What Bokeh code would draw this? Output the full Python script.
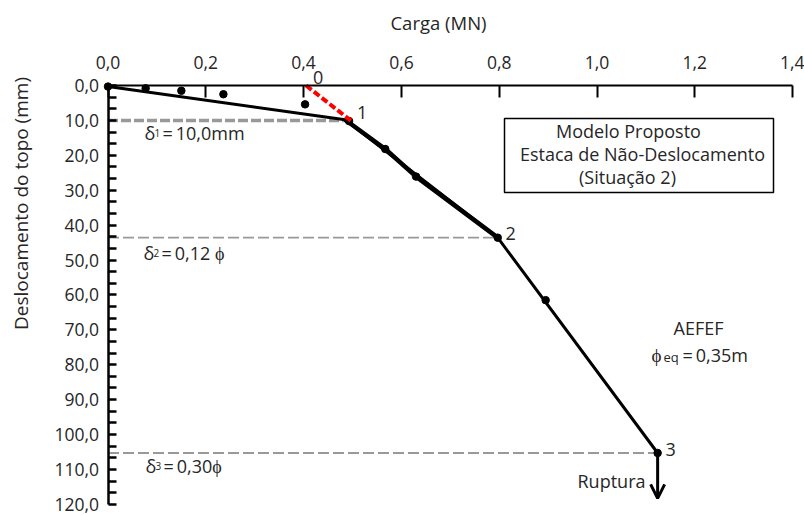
import math
from bokeh.plotting import figure
from bokeh.models import Range1d, FixedTicker, Label, Arrow, OpenHead
from bokeh.embed import file_html
from bokeh.resources import INLINE

# ---------------- data ----------------
x_ticks = [0.0, 0.2, 0.4, 0.6, 0.8, 1.0, 1.2, 1.4]
x_tick_labels = ["0,0", "0,2", "0,4", "0,6", "0,8", "1,0", "1,2", "1,4"]
y_ticks = [0, 10, 20, 30, 40, 50, 60, 70, 80, 90, 100, 110, 120]
y_tick_labels = ["0,0", "10,0", "20,0", "30,0", "40,0", "50,0", "60,0",
                 "70,0", "80,0", "90,0", "100,0", "110,0", "120,0"]

# measured load-displacement points (MN, mm)
exp_load = [0.0, 0.077, 0.150, 0.236, 0.403, 0.493, 0.567, 0.630, 0.797, 0.895, 1.124]
exp_disp = [0.3, 0.8, 1.5, 2.5, 5.4, 10.2, 18.2, 26.1, 43.6, 61.5, 105.3]

# proposed model (tri-linear)
model_load = [0.0, 0.485, 0.797, 1.124]
model_disp = [0.3, 9.8, 43.6, 105.3]

# mid segment (overlap of model and data)
mid_load = [0.485, 0.567, 0.630, 0.797]
mid_disp = [9.8, 18.2, 26.1, 43.6]

# stage points
stage_names = ["0", "1", "2", "3"]
stage_load = [0.405, 0.493, 0.797, 1.124]
stage_disp = [0.0, 10.0, 43.6, 105.3]

# initial tangent (red)
tangent_load = [0.405, 0.497]
tangent_disp = [0.0, 10.1]

rupture_end = 118.3

FONT = "Open Sans"
TXT = "#262626"

# pixel -> data helpers for placing free text (layout only)
def PX(px):
    return (px - 107.5) / 489.0

def PY(py):
    return (py - 85.0) / 3.49

W, H = 804, 515
p = figure(width=W, height=H,
           x_range=Range1d(PX(0), PX(W)), y_range=Range1d(PY(H), PY(0)),
           x_axis_location="above", output_backend="svg", toolbar_location=None,
           min_border_left=0, min_border_right=0, min_border_top=0, min_border_bottom=0)
p.outline_line_color = None
p.grid.visible = False
p.background_fill_color = "white"
p.border_fill_color = "white"

# x axis (top), drawn at displacement 0
xa = p.xaxis[0]
xa.fixed_location = 0
xa.bounds = (x_ticks[0], x_ticks[-1])
xa.ticker = FixedTicker(ticks=x_ticks, minor_ticks=[])
xa.major_label_overrides = {t: l for t, l in zip(x_ticks, x_tick_labels)}
xa.major_label_text_font = FONT
xa.major_label_text_font_size = "17.5px"
xa.major_label_text_color = TXT
xa.major_label_standoff = 17
xa.major_tick_in = 12
xa.major_tick_out = 0
xa.minor_tick_in = 0
xa.minor_tick_out = 0
xa.axis_line_width = 2
xa.major_tick_line_width = 2
xa.axis_line_color = "black"
xa.major_tick_line_color = "black"

# y axis (left), drawn at load 0
minor = []
for i in range(len(y_ticks) - 1):
    a, b = y_ticks[i], y_ticks[i + 1]
    minor += [a + (b - a) / 3.0, a + 2 * (b - a) / 3.0]
ya = p.yaxis[0]
ya.fixed_location = 0
ya.bounds = (y_ticks[0], y_ticks[-1])
ya.ticker = FixedTicker(ticks=y_ticks, minor_ticks=minor)
ya.major_label_overrides = {t: l for t, l in zip(y_ticks, y_tick_labels)}
ya.major_label_text_font = FONT
ya.major_label_text_font_size = "17.5px"
ya.major_label_text_color = TXT
ya.major_label_standoff = 9
ya.major_tick_in = 8
ya.major_tick_out = 0
ya.minor_tick_in = 8
ya.minor_tick_out = 0
ya.axis_line_width = 2.5
ya.major_tick_line_width = 2.5
ya.minor_tick_line_width = 2.5
ya.axis_line_color = "black"
ya.major_tick_line_color = "black"
ya.minor_tick_line_color = "black"


def lab(x, y, t, size="18px", align="left", xo=0, yo=0, angle=0.0):
    p.add_layout(Label(x=x, y=y, text=t, x_offset=xo, y_offset=yo, text_align=align,
                       text_baseline="middle", text_font=FONT, text_font_size=size,
                       text_color=TXT, angle=angle))

# axis titles
lab(PX(438), PY(22), "Carga (MN)", size="18.5px", align="center")
lab(PX(20), PY(203), "Deslocamento do topo (mm)", size="19px", align="center",
    angle=math.pi / 2)

# gray dashed reference lines
p.line([0, stage_load[1]], [stage_disp[1], stage_disp[1]], line_color="#999999",
       line_width=3.5, line_dash="10 3")
p.line([0, stage_load[2]], [stage_disp[2], stage_disp[2]], line_color="#999999",
       line_width=1.8, line_dash="11 4")
p.line([0, stage_load[3]], [stage_disp[3], stage_disp[3]], line_color="#999999",
       line_width=1.8, line_dash="11 4")

# model line
p.line(model_load, model_disp, line_color="black", line_width=3)
p.line(mid_load, mid_disp, line_color="black", line_width=4.5)

# data dots
p.scatter(exp_load, exp_disp, size=7.5, color="black")

# red tangent
p.line(tangent_load, tangent_disp, line_color="#ff0000", line_width=4, line_dash="7 3")

# rupture arrow
p.add_layout(Arrow(x_start=stage_load[3], y_start=stage_disp[3], x_end=stage_load[3],
                   y_end=rupture_end, line_width=3, line_color="black",
                   end=OpenHead(size=14, line_width=3, line_color="black")))

# stage labels
lab(stage_load[0], stage_disp[0], stage_names[0], align="center", xo=12, yo=8)
lab(stage_load[1], stage_disp[1], stage_names[1], align="center", xo=13, yo=8)
lab(stage_load[2], stage_disp[2], stage_names[2], align="center", xo=13, yo=4)
lab(stage_load[3], stage_disp[3], stage_names[3], align="center", xo=13, yo=3)

# delta labels
for px, py, sub, rest in [(144, 132, "1", "\u2009=\u200910,0mm"),
                          (143, 252, "2", "\u2009=\u20090,12 ϕ"),
                          (145, 465, "3", "\u2009=\u20090,30ϕ")]:
    lab(PX(px), PY(py), "δ")
    lab(PX(px), PY(py), sub, size="10px", xo=10)
    lab(PX(px), PY(py), rest, xo=15)

# annotation box
p.quad(left=[PX(504)], right=[PX(773)], top=[PY(118)], bottom=[PY(192)], fill_color=None,
       line_color="black", line_width=1.5)
lab(PX(628), PY(130), "Modelo Proposto", align="center")
lab(PX(642), PY(153), "Estaca de Não-Deslocamento", align="center")
lab(PX(627), PY(176), "(Situação 2)", align="center")

# pile info
lab(PX(698), PY(327), "AEFEF", align="center")
lab(PX(651), PY(354), "ϕ", size="19px")
lab(PX(663), PY(356), "eq", size="13px")
lab(PX(679), PY(354), "\u2009=\u20090,35m")

lab(PX(611), PY(480), "Ruptura", align="center")

open("out.html", "w").write(file_html(p, INLINE))
